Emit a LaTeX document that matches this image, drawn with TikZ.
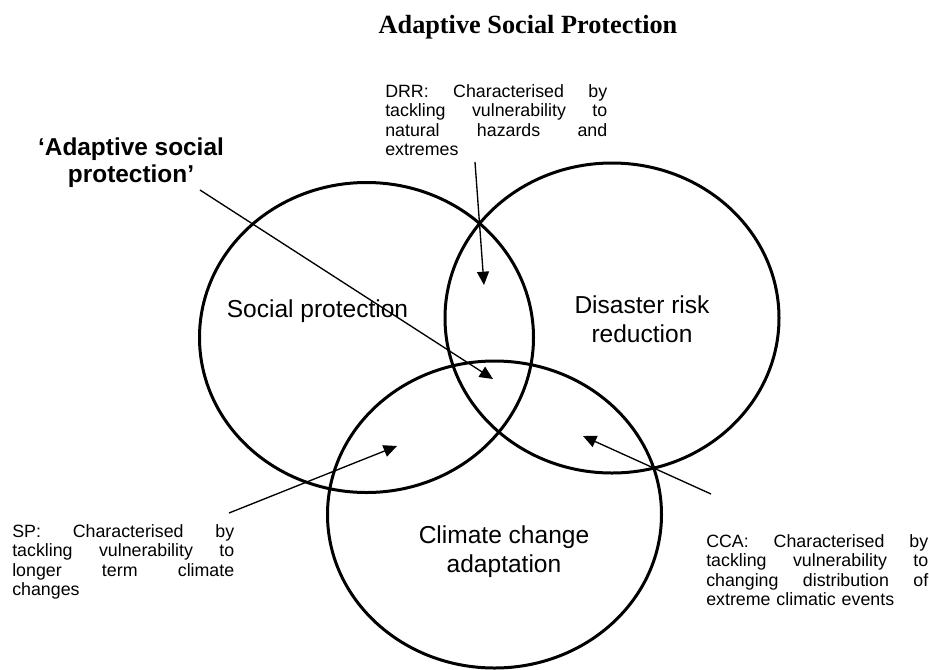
\documentclass[tikz,border=0pt]{standalone}
\usepackage{fontspec}
\setmainfont{Liberation Serif}
\setsansfont{Liberation Sans}
\usepackage{tikz}
\usetikzlibrary{shapes.geometric, arrows.meta, positioning}

\begin{document}
\begin{tikzpicture}[
    x=0.75pt, y=-0.75pt,
    ring/.style={draw, ellipse, line width=2.25pt, inner sep=0pt, minimum width=250.5pt, minimum height=232.5pt},
    biglabel/.style={font=\sffamily\fontsize{18.4}{21.75}\selectfont, align=center, inner sep=0pt},
    asplabel/.style={font=\sffamily\bfseries\fontsize{18.3}{20.25}\selectfont, align=center, inner sep=0pt},
    note/.style={font=\sffamily\fontsize{13.35}{14.7}\selectfont, text width=166.5pt, align=left, inner sep=0pt, anchor=base west},
    pointer/.style={-{Triangle[length=10pt, width=9pt]}, line width=1pt}
]
\useasboundingbox (0,0) rectangle (929,669);

% Title
\node[font=\bfseries\fontsize{19.7}{23}\selectfont, anchor=base, inner sep=0pt] (title) at (528,33) {Adaptive Social Protection};

% Circles
\node[ring] (sp) at (366.5,337.5) {};
\node[ring] (drr) at (612,318) {};
\node[ring, minimum height=230.25pt] (cca) at (494.5,514.5) {};

% Circle labels (base is the last line)
\node[biglabel, anchor=base] (splbl) at (317.5,317) {Social protection};
\node[biglabel, anchor=base] (drrlbl) at (642,342) {Disaster risk\\reduction};
\node[biglabel, anchor=base] (ccalbl) at (504,572) {Climate change\\adaptation};
\node[asplabel, anchor=base] (asp) at (131,182) {‘Adaptive social\\protection’};

% Notes
\node[note] (drrnote) at (385,97) {DRR:\hfill Characterised\hfill by\\tackling\hfill vulnerability\hfill to\\natural\hfill hazards\hfill and\\extremes};
\node[note] (spnote) at (12,537) {SP:\hfill Characterised\hfill by\\tackling\hfill vulnerability\hfill to\\longer\hfill term\hfill climate\\changes};
\node[note] (ccanote) at (706,547) {CCA:\hfill Characterised\hfill by\\tackling\hfill vulnerability\hfill to\\changing\hfill distribution\hfill of\\extreme climatic events};

% Arrow ends
\coordinate (aspfrom) at (200,190);
\coordinate (aspto) at (493,379);
\coordinate (drrfrom) at (475,162);
\coordinate (drrto) at (484,285);
\coordinate (spfrom) at (229,513);
\coordinate (spto) at (397,446);
\coordinate (ccafrom) at (711,494);
\coordinate (ccato) at (583,436);

% Arrows
\draw[pointer] (aspfrom) -- (aspto);
\draw[pointer] (drrfrom) -- (drrto);
\draw[pointer] (spfrom) -- (spto);
\draw[pointer] (ccafrom) -- (ccato);

\end{tikzpicture}
\end{document}
